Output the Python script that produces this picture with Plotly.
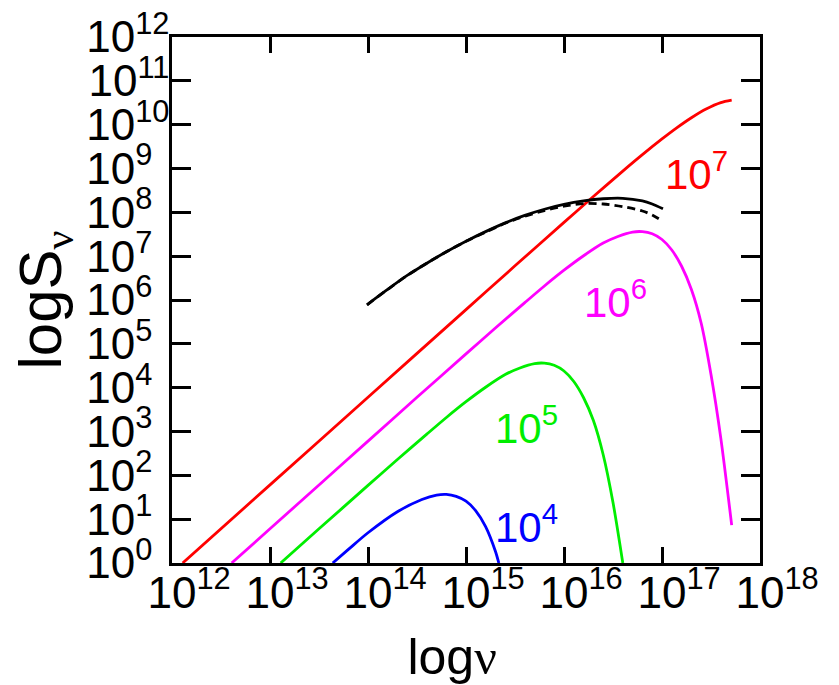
import plotly.graph_objects as go

# ---- data (log10 values) ----
red_lognu = [12.109, 13.0, 14.0, 15.0, 15.5, 16.0, 16.3, 16.6, 16.8, 17.0, 17.15, 17.3, 17.45, 17.6, 17.711]
red_logS = [0.0, 1.782, 3.782, 5.78, 6.78, 7.77, 8.36, 8.94, 9.315, 9.674, 9.927, 10.158, 10.357, 10.504, 10.56]

mag_lognu = [12.609, 13.0, 13.5, 14.0, 14.5, 15.0, 15.3, 15.6, 15.8, 16.0, 16.2, 16.4, 16.55,
             16.7, 16.8, 16.9, 17.0, 17.1, 17.2, 17.3, 17.4, 17.5, 17.6, 17.711]
mag_logS = [0.0, 0.78, 1.78, 2.78, 3.78, 4.77, 5.36, 5.94, 6.32, 6.68, 7.01, 7.30, 7.45,
            7.55, 7.56, 7.51, 7.38, 7.14, 6.77, 6.24, 5.47, 4.3, 2.85, 0.865]

grn_lognu = [13.109, 13.5, 14.0, 14.3, 14.6, 14.8, 15.0, 15.2, 15.4, 15.55, 15.7, 15.8,
             15.9, 16.0, 16.1, 16.2, 16.3, 16.4, 16.5, 16.6]
grn_logS = [0.0, 0.78, 1.77, 2.36, 2.94, 3.32, 3.68, 4.01, 4.30, 4.45, 4.55, 4.56,
            4.51, 4.38, 4.14, 3.77, 3.25, 2.47, 1.38, 0.0]

blu_lognu = [13.64, 13.8, 14.0, 14.3, 14.55, 14.7, 14.8, 14.9, 15.0, 15.1, 15.2, 15.3, 15.335]
blu_logS = [0.0, 0.31, 0.69, 1.17, 1.45, 1.55, 1.565, 1.52, 1.41, 1.19, 0.83, 0.27, 0.0]

blk_lognu = [13.99, 14.2, 14.4, 14.6, 14.8, 15.0, 15.2, 15.4, 15.6, 15.8, 16.0, 16.2, 16.4, 16.6, 16.8, 16.9, 17.01]
blk_logS = [5.89, 6.24, 6.56, 6.84, 7.10, 7.34, 7.56, 7.76, 7.93, 8.07, 8.18, 8.26, 8.31, 8.32, 8.26, 8.19, 8.08]

dsh_lognu = [13.99, 14.2, 14.4, 14.6, 14.8, 15.0, 15.2, 15.4, 15.6, 15.8, 16.0, 16.2, 16.4, 16.6, 16.8, 16.9, 17.0]
dsh_logS = [5.89, 6.24, 6.56, 6.84, 7.10, 7.34, 7.55, 7.75, 7.91, 8.04, 8.14, 8.20, 8.19, 8.13, 8.03, 7.94, 7.81]

curve_labels = ["7", "6", "5", "4"]
label_lognu = [17.01, 16.18, 15.276, 15.276]
label_logS = [8.95, 6.03, 3.15, 0.89]

x_exps = list(range(12, 19))
y_exps = list(range(0, 13))

RED, MAG, GRN, BLU = "#ff0000", "#ff00ff", "#00ee00", "#0000ff"

fig = go.Figure()

def add(xs, ys, color, dash="solid"):
    fig.add_trace(go.Scatter(
        x=[10 ** v for v in xs], y=[10 ** v for v in ys], mode="lines",
        line=dict(color=color, width=2.8, dash=dash, shape="spline", smoothing=0.8),
        hoverinfo="skip"))

add(red_lognu, red_logS, RED)
add(mag_lognu, mag_logS, MAG)
add(grn_lognu, grn_logS, GRN)
add(blu_lognu, blu_logS, BLU)
add(dsh_lognu, dsh_logS, "black", dash="8px,5px")
add(blk_lognu, blk_logS, "black")

for t, xl, yl, c in zip(curve_labels, label_lognu, label_logS, [RED, MAG, GRN, BLU]):
    fig.add_annotation(x=xl, y=yl, xref="x", yref="y", text=f"10<sup>{t}</sup>",
                       showarrow=False, xanchor="left", yanchor="middle",
                       font=dict(size=42, color=c, family="Liberation Sans, Arial"))

FIG = "\u2007"
xt_text = [f"<sup>{FIG}{FIG}</sup>10<sup>{k}</sup>" for k in x_exps]
yt_text = [f"10<sup>{k}{'' if k >= 10 else FIG}</sup>" for k in y_exps]

axis_common = dict(
    showline=True, linecolor="black", linewidth=2.5, mirror="ticks",
    ticks="inside", tickcolor="black", tickwidth=2.5,
    showgrid=False, zeroline=False,
    tickfont=dict(size=44, color="black", family="Liberation Sans, Arial"),
)

fig.update_xaxes(type="log", range=[12, 18.0000001], tickvals=[10 ** k for k in x_exps],
                 ticktext=xt_text, ticklen=16, tickangle=0, ticklabelstandoff=-11,
                 title=dict(text="log<span style='font-family:Liberation Serif'>ν</span><span>" + FIG + "</span>",
                            font=dict(size=50, color="black", family="Liberation Sans, Arial"),
                            standoff=29),
                 **axis_common)
fig.update_yaxes(type="log", range=[0, 12.0000001], tickvals=[10 ** k for k in y_exps],
                 ticktext=yt_text, ticklen=19, ticklabelstandoff=-9,
                 title=dict(text="logS<sub><span style='font-family:Liberation Serif'>ν</span></sub>",
                            font=dict(size=60, color="black", family="Liberation Sans, Arial"),
                            standoff=6),
                 **axis_common)

fig.update_layout(width=839, height=685, margin=dict(l=172, r=79, t=37, b=122, autoexpand=False),
                  plot_bgcolor="white", paper_bgcolor="white", showlegend=False,
                  font=dict(family="Liberation Sans, Arial", color="black"))

fig.write_html("out.html")
